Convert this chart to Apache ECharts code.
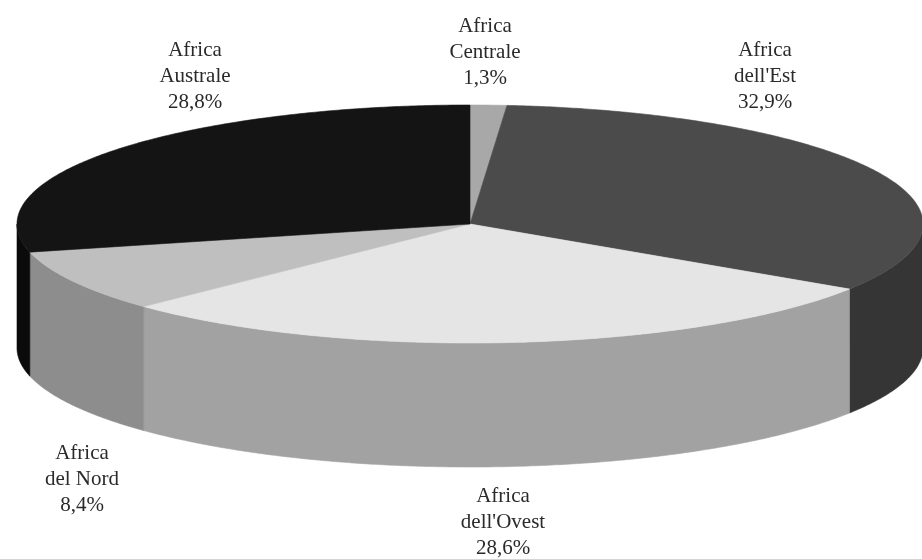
<!DOCTYPE html>
<html><head><meta charset="utf-8">
<script src="https://cdn.jsdelivr.net/npm/echarts@6/dist/echarts.min.js"></script>
<style>html,body{margin:0;padding:0;background:#fff}#c{width:922px;height:559px}</style>
</head><body><div id="c"></div>
<script>
// ---- data ----
const categories = ["Africa Centrale", "Africa dell'Est", "Africa dell'Ovest", "Africa del Nord", "Africa Australe"];
const shares = [1.3, 32.9, 28.6, 8.4, 28.8];

// ---- styles / layout ----
const topColors  = ['#a8a8a8', '#4b4b4b', '#e5e5e5', '#bfbfbf', '#141414'];
const sideColors = ['#7a7a7a', '#353535', '#a2a2a2', '#8d8d8d', '#0b0b0b'];
const labelAnchors = [[485, 52], [765, 76], [503, 522], [82, 479], [195, 76]];
const G = { cx: 470, cy: 224, rx: 453, ry: 119, depth: 124 };

const total = shares.reduce((a, b) => a + b, 0);
const cumBefore = shares.map((_, i) => shares.slice(0, i).reduce((a, b) => a + b, 0));

function pt(deg, dy) {
  const r = deg * Math.PI / 180;
  return [G.cx + G.rx * Math.cos(r), G.cy - G.ry * Math.sin(r) + dy];
}
function arc(from, to, dy) {
  const pts = [];
  const n = Math.max(2, Math.ceil(Math.abs(from - to) / 0.5));
  for (let k = 0; k <= n; k++) pts.push(pt(from + (to - from) * k / n, dy));
  return pts;
}
function fmt(v) { return v.toFixed(1).replace('.', ',') + '%'; }

function renderItem(params, api) {
  const i = params.dataIndex;
  const v = api.value(0);
  const a0 = 90 - cumBefore[i] / total * 360;
  const a1 = a0 - v / total * 360;
  const children = [];
  // side (front half only)
  const lo = Math.max(a1, -180), hi = Math.min(a0, 0);
  if (lo < hi) {
    const pts = arc(hi, lo, 0).concat(arc(lo, hi, G.depth));
    children.push({ type: 'polygon', shape: { points: pts }, z2: 1,
      style: { fill: sideColors[i], stroke: sideColors[i], lineWidth: 0.6 } });
  }
  // top face
  const topPts = [[G.cx, G.cy]].concat(arc(a0, a1, 0));
  children.push({ type: 'polygon', shape: { points: topPts }, z2: 10,
    style: { fill: topColors[i], stroke: topColors[i], lineWidth: 0.6 } });
  // label
  const name = categories[i].replace(' ', '\n');
  children.push({ type: 'text', x: labelAnchors[i][0], y: labelAnchors[i][1], z2: 20,
    style: { text: name + '\n' + fmt(v), font: '21px "Liberation Serif", "DejaVu Serif", serif',
      fill: '#2a2a2a', align: 'center', verticalAlign: 'middle', lineHeight: 26 } });
  return { type: 'group', children };
}

const chart = echarts.init(document.getElementById('c'), null, { renderer: 'canvas' });
chart.setOption({
  animation: false,
  backgroundColor: '#ffffff',
  series: [{
    type: 'custom',
    coordinateSystem: 'none',
    renderItem,
    data: shares.map((v, i) => ({ value: v, name: categories[i] }))
  }]
});
</script></body></html>
